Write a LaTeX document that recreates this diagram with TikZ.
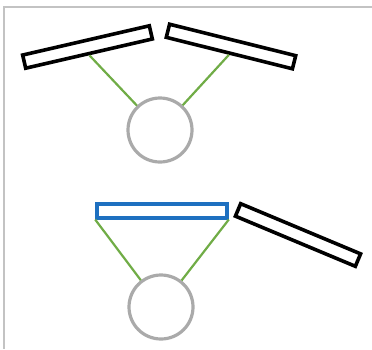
\documentclass[tikz,border=0pt]{standalone}
\definecolor{framegray}{RGB}{195,195,195}
\definecolor{ballgray}{RGB}{170,170,170}
\definecolor{armgreen}{RGB}{112,172,70}
\definecolor{lidblue}{RGB}{30,112,192}
\begin{document}
\begin{tikzpicture}[x=1pt,y=-1pt,
  panel/.style={draw=black,line width=3.6pt,minimum width=130pt,minimum height=13.5pt,inner sep=0pt},
  lid/.style={panel,draw=lidblue},
  ball/.style={circle,draw=ballgray,line width=3.2pt,minimum size=64pt,inner sep=0pt},
  arm/.style={armgreen,line width=2.2pt}]
  \useasboundingbox (0,0) rectangle (372,349);
  \draw[framegray,line width=2pt] (372,7) -- (4,7) -- (4,349);
  % top: both panels tilted
  \node[panel,rotate=13] (tl) at (87.5,47) {};
  \node[panel,rotate=-14] (tr) at (231,46.5) {};
  \node[ball] (ta) at (160,130) {};
  \draw[arm] (tl.south) -- (ta);
  \draw[arm] (tr.south) -- (ta);
  % bottom: one panel flat, the other tilted
  \node[lid] (bl) at (162,211) {};
  \node[panel,rotate=-22.7] (br) at (298,235) {};
  \node[ball] (ba) at (161,307) {};
  \draw[arm] (bl.south west) -- (ba);
  \draw[arm] (bl.south east) -- (ba);
\end{tikzpicture}
\end{document}
